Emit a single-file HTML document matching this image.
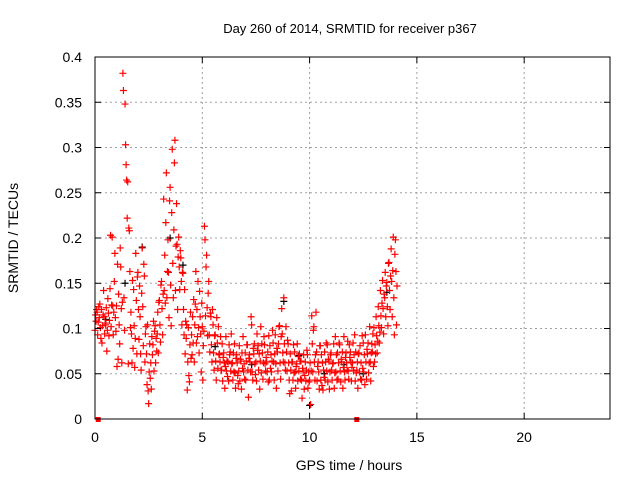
<!DOCTYPE html>
<html><head><meta charset="utf-8"><style>
body{margin:0;background:#fff}
svg{display:block;font-family:"Liberation Sans",sans-serif}
</style></head><body>
<svg id="chart" width="640" height="480">
<rect width="640" height="480" fill="#fff"/>
<g id="grid"></g>
<g id="blackpts"></g>
<g id="redpts"></g>
<rect x="95" y="57" width="515" height="362" fill="none" stroke="#000" stroke-width="1"/>
<g id="ticks"></g>
<text x="350" y="33" font-size="13" text-anchor="middle">Day 260 of 2014, SRMTID for receiver p367</text>
<text x="349" y="470" font-size="14" text-anchor="middle">GPS time / hours</text>
<text transform="translate(18,238) rotate(-90)" font-size="14" text-anchor="middle">SRMTID / TECUs</text>
</svg>
<script>
const xTicks=[0,5,10,15,20];
const yTicks=[0,0.05,0.1,0.15,0.2,0.25,0.3,0.35,0.4];
const yTickLabels=["0","0.05","0.1","0.15","0.2","0.25","0.3","0.35","0.4"];
const hours=[0.0,0.1,0.2,0.3,0.4,0.5,0.6,0.7,0.8,0.9,1.0,1.1,1.2,1.3,1.4,1.5,1.6,1.7,1.8,1.9,2.0,2.1,2.2,2.3,2.4,2.5,2.6,2.7,2.8,2.9,3.0,3.1,3.2,3.3,3.4,3.5,3.6,3.7,3.8,3.9,4.0,4.1,4.2,4.3,4.4,4.5,4.6,4.7,4.8,4.9,5.0,5.1,5.2,5.3,5.4,5.5,5.6,5.7,5.8,5.9,6.0,6.1,6.2,6.3,6.4,6.5,6.6,6.7,6.8,6.9,7.0,7.1,7.2,7.3,7.4,7.5,7.6,7.7,7.8,7.9,8.0,8.1,8.2,8.3,8.4,8.5,8.6,8.7,8.8,8.9,9.0,9.1,9.2,9.3,9.4,9.5,9.6,9.7,9.8,9.9,10.0,10.1,10.2,10.3,10.4,10.5,10.6,10.7,10.8,10.9,11.0,11.1,11.2,11.3,11.4,11.5,11.6,11.7,11.8,11.9,12.0,12.1,12.2,12.3,12.4,12.5,12.6,12.7,12.8,12.9,13.0,13.1,13.2,13.3,13.4,13.5,13.6,13.7,13.8,13.9,14.0];
const srmtid=[
[.098,.115,.108,.121],[.118,.093,.107,.124],[.112,.127,.101,.089],[.121,.084,.103,.115],[.142,.113,.094,.106],[.104,.123,.075,.098],[.133,.117,.092,.109],[.144,.203,.102,.126],[.201,.125,.093,.118],[.152,.183,.112,.097],[.125,.058,.171,.066],[.138,.104,.083,.189],[.168,.122,.062,.129],[.382,.363,.134,.098],[.348,.303,.281,.264],[.222,.262,.061,.211],[.208,.163,.101,.118],[.094,.062,.153,.078],[.143,.103,.057,.089],[.183,.131,.072,.157],[.162,.121,.088,.147],[.113,.072,.054,.139],[.189,.124,.081,.171],[.158,.063,.094,.102],[.072,.038,.104,.031],[.017,.052,.083,.045],[.062,.033,.091,.071],[.082,.108,.053,.097],[.103,.062,.089,.075],[.094,.118,.073,.129],[.131,.104,.085,.148],[.152,.122,.093,.138],[.243,.142,.181,.128],[.217,.272,.134,.163],[.198,.162,.112,.241],[.256,.148,.103,.228],[.298,.172,.134,.209],[.283,.308,.142,.191],[.238,.193,.121,.179],[.201,.168,.143,.186],[.178,.152,.104,.162],[.161,.121,.093,.143],[.072,.108,.089,.104],[.032,.063,.101,.048],[.041,.082,.118,.067],[.093,.071,.113,.084],[.132,.063,.104,.127],[.163,.084,.121,.091],[.152,.101,.073,.141],[.113,.094,.052,.128],[.102,.043,.081,.097],[.213,.198,.114,.168],[.181,.123,.092,.139],[.152,.093,.074,.117],[.113,.082,.063,.121],[.104,.073,.054,.092],[.093,.064,.043,.112],[.084,.056,.102,.071],[.072,.063,.091,.054],[.054,.083,.042,.068],[.073,.062,.034,.058],[.091,.053,.064,.047],[.063,.042,.082,.071],[.074,.053,.094,.061],[.062,.043,.073,.052],[.083,.051,.034,.067],[.071,.062,.048,.039],[.053,.081,.042,.066],[.064,.033,.073,.056],[.091,.052,.061,.044],[.073,.043,.064,.082],[.082,.054,.024,.067],[.071,.063,.052,.113],[.104,.052,.043,.078],[.072,.083,.061,.049],[.063,.042,.094,.076],[.081,.054,.072,.033],[.064,.102,.051,.083],[.073,.044,.062,.091],[.082,.061,.053,.068],[.063,.052,.074,.041],[.092,.043,.081,.056],[.071,.052,.064,.098],[.084,.063,.043,.072],[.093,.061,.034,.078],[.074,.053,.083,.102],[.103,.062,.044,.091],[.122,.094,.073,.063],[.134,.083,.062,.054],[.102,.074,.053,.087],[.083,.062,.043,.028],[.072,.054,.031,.063],[.063,.043,.082,.051],[.074,.052,.034,.058],[.061,.083,.042,.069],[.053,.072,.064,.044],[.064,.043,.023,.056],[.052,.071,.033,.048],[.063,.042,.054,.076],[.071,.034,.052,.041],[.043,.062,.016,.053],[.114,.083,.052,.098],[.102,.063,.043,.071],[.118,.074,.042,.058],[.063,.052,.033,.081],[.081,.043,.071,.037],[.062,.032,.054,.046],[.074,.043,.063,.084],[.053,.082,.041,.066],[.064,.033,.052,.071],[.073,.054,.043,.061],[.062,.083,.034,.051],[.091,.052,.071,.043],[.073,.044,.062,.084],[.082,.053,.041,.066],[.063,.074,.034,.057],[.091,.052,.043,.068],[.073,.062,.054,.086],[.053,.044,.082,.068],[.074,.063,.042,.057],[.062,.084,.053,.071],[.093,.042,.074,.051],[.054,.063,.034,.072],[.073,.052,.081,.044],[.062,.043,.092,.056],[.084,.052,.071,.038],[.093,.063,.044,.077],[.072,.084,.051,.062],[.102,.063,.042,.073],[.083,.074,.094,.058],[.101,.063,.082,.072],[.113,.092,.073,.086],[.124,.103,.084,.096],[.142,.114,.101,.128],[.153,.122,.094,.138],[.134,.162,.113,.147],[.151,.124,.103,.172],[.173,.142,.121,.158],[.188,.152,.113,.164],[.201,.134,.093,.182],[.198,.163,.104,.147]];
const blackHours=[0.5,1.4,2.2,3.5,4.1,5.6,7.3,8.8,9.5,10.0,10.7,11.6,12.5,13.6];
const blackVals=[0.11,0.15,0.19,0.20,0.17,0.08,0.06,0.13,0.07,0.015,0.05,0.06,0.05,0.14];
const squareHours=[0.15,12.2];
const NS="http://www.w3.org/2000/svg";
const X0=95,X1=610,Y0=419,Y1=57;
function xs(h){return X0+(h/24)*(X1-X0);}
function ys(v){return Y0-(v/0.4)*(Y0-Y1);}
function mk(tag,attrs,parent){const e=document.createElementNS(NS,tag);for(const k in attrs)e.setAttribute(k,attrs[k]);parent.appendChild(e);return e;}
const grid=document.getElementById('grid'),ticks=document.getElementById('ticks');
yTicks.forEach((v,i)=>{const y=ys(v);
 if(v>0&&v<0.4){const l=mk('line',{x1:X0,x2:X1,y1:y,y2:y,stroke:'#a0a0a0','stroke-dasharray':'2,3'},grid);
 
 }
 mk('line',{x1:X0,x2:X0+6,y1:y,y2:y,stroke:'#000'},ticks);
 mk('line',{x1:X1,x2:X1-6,y1:y,y2:y,stroke:'#000'},ticks);
 const t=mk('text',{x:82,y:y+5,'font-size':14,'text-anchor':'end'},ticks);t.textContent=yTickLabels[i];
 
 
});
xTicks.forEach(h=>{const x=xs(h);
 if(h>0){const l=mk('line',{x1:x,x2:x,y1:Y0,y2:Y1,stroke:'#a0a0a0','stroke-dasharray':'2,3'},grid);
 
 }
 mk('line',{x1:x,x2:x,y1:Y0,y2:Y0-6,stroke:'#000'},ticks);
 mk('line',{x1:x,x2:x,y1:Y1,y2:Y1+6,stroke:'#000'},ticks);
 const t=mk('text',{x:x,y:442,'font-size':14,'text-anchor':'middle'},ticks);t.textContent=String(h);
 
 
});
function plus(x,y,col,parent,name){const p=mk('path',{d:`M${x-3.5},${y}h7M${x},${y-3.5}v7`,stroke:col,'stroke-width':1.2,fill:'none'},parent);
 
 }
const bp=document.getElementById('blackpts'),rp=document.getElementById('redpts');
blackHours.forEach((h,i)=>plus(xs(h),ys(blackVals[i]),'#000',bp,'black-point'));
hours.forEach((h,i)=>srmtid[i].forEach((v,j)=>plus(xs(h+j*0.025),ys(v),'#f00',rp,'red-point')));
squareHours.forEach(h=>{const r=mk('rect',{x:xs(h)-2.5,y:Y0-2,width:5,height:5,fill:'#f00'},rp);
 
 });
</script>
</body></html>
